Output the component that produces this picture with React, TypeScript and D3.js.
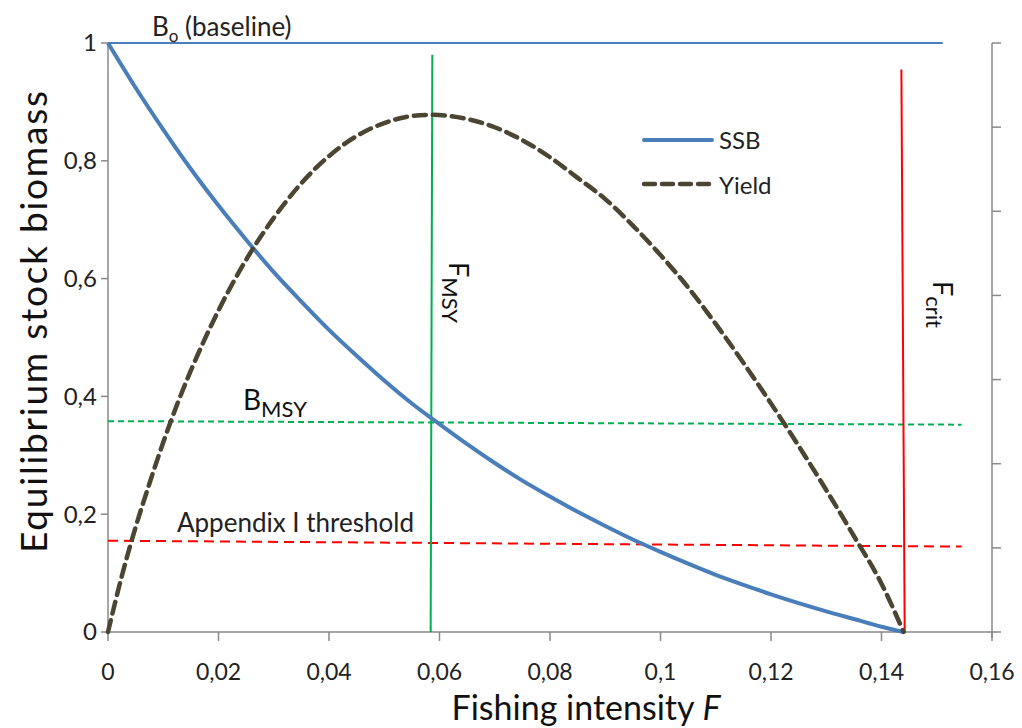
import React from "react";
import * as d3 from "d3";

// ---- data ----
const ssbF = [0, 0.005, 0.01, 0.015, 0.02, 0.025, 0.03, 0.035, 0.04, 0.045, 0.05, 0.055, 0.06, 0.065, 0.07, 0.075, 0.08, 0.085, 0.09, 0.095, 0.1, 0.105, 0.11, 0.115, 0.12, 0.125, 0.13, 0.135, 0.14, 0.144];
const ssbValues = [1, 0.924, 0.853, 0.786, 0.724, 0.666, 0.611, 0.561, 0.513, 0.469, 0.427, 0.388, 0.353, 0.319, 0.287, 0.257, 0.23, 0.204, 0.18, 0.157, 0.136, 0.116, 0.097, 0.08, 0.064, 0.049, 0.035, 0.022, 0.009, 0];

const yieldF = [0, 0.0025, 0.005, 0.0075, 0.01, 0.0125, 0.015, 0.0175, 0.02, 0.025, 0.03, 0.035, 0.04, 0.045, 0.05, 0.055, 0.0585, 0.062, 0.065, 0.07, 0.075, 0.08, 0.085, 0.09, 0.095, 0.1, 0.105, 0.11, 0.115, 0.12, 0.125, 0.13, 0.135, 0.14, 0.144];
const yieldValues = [0, 0.095, 0.178, 0.252, 0.322, 0.386, 0.444, 0.497, 0.546, 0.632, 0.703, 0.762, 0.808, 0.842, 0.864, 0.876, 0.878, 0.876, 0.871, 0.857, 0.835, 0.806, 0.771, 0.735, 0.69, 0.64, 0.585, 0.523, 0.457, 0.388, 0.316, 0.241, 0.163, 0.082, 0];

const xTicks = [0, 0.02, 0.04, 0.06, 0.08, 0.1, 0.12, 0.14, 0.16];
const xTickLabels = ["0", "0,02", "0,04", "0,06", "0,08", "0,1", "0,12", "0,14", "0,16"];
const yTicks = [0, 0.2, 0.4, 0.6, 0.8, 1];
const yTickLabels = ["0", "0,2", "0,4", "0,6", "0,8", "1"];
const rightTicks = [0, 1 / 7, 2 / 7, 3 / 7, 4 / 7, 5 / 7, 6 / 7, 1];

// reference lines: [F, value] endpoints
const baselineLine = [[0, 1], [0.1511, 1]];
const bmsyLine = [[0, 0.358], [0.1545, 0.352]];
const appendixLine = [[0, 0.155], [0.1545, 0.145]];
const fmsyLine = [[0.0587, 0.98], [0.0584, 0]];
const fcritLine = [[0.1436, 0.955], [0.1442, 0]];

const FONT = "Lato, 'Open Sans', sans-serif";
const AXIS = "#898989";

export default function App() {
  const x = d3.scaleLinear().domain([0, 0.16]).range([108, 992]);
  const y = d3.scaleLinear().domain([0, 1]).range([632, 43]);
  const line = d3.line<number[]>().x((d) => x(d[0])).y((d) => y(d[1]));
  const curve = d3
    .line<number[]>()
    .x((d) => x(d[0]))
    .y((d) => y(d[1]))
    .curve(d3.curveMonotoneX);

  const ssb = ssbF.map((f, i) => [f, ssbValues[i]]);
  const yld = yieldF.map((f, i) => [f, yieldValues[i]]);

  return (
    <svg
      width={1022}
      height={728}
      style={{ position: "absolute", left: 0, top: 0, background: "#fff" }}
      fontFamily={FONT}
    >
      {/* axes */}
      <line x1={x(0)} x2={x(0)} y1={y(1)} y2={y(0)} stroke={AXIS} strokeWidth={1.5} />
      <line x1={x(0)} x2={x(0.16)} y1={y(0)} y2={y(0)} stroke={AXIS} strokeWidth={1.5} />
      <line x1={x(0.16)} x2={x(0.16)} y1={y(1)} y2={y(0) + 6} stroke={AXIS} strokeWidth={1.5} />
      {yTicks.map((t, i) => (
        <g key={"yt" + i}>
          <line x1={x(0) - 7} x2={x(0)} y1={y(t)} y2={y(t)} stroke={AXIS} strokeWidth={1.5} />
          <text x={x(0) - 11} y={y(t)} dy="0.35em" textAnchor="end" fontSize={24} fill="#222">
            {yTickLabels[i]}
          </text>
        </g>
      ))}
      {rightTicks.map((t, i) => (
        <line key={"rt" + i} x1={x(0.16)} x2={x(0.16) + 9} y1={y(t)} y2={y(t)} stroke={AXIS} strokeWidth={1.5} />
      ))}
      {xTicks.map((t, i) => (
        <g key={"xt" + i}>
          <line x1={x(t)} x2={x(t)} y1={y(0)} y2={y(0) + 9} stroke={AXIS} strokeWidth={1.5} />
          <text x={x(t)} y={y(0) + 48} textAnchor="middle" fontSize={23} fill="#222">
            {xTickLabels[i]}
          </text>
        </g>
      ))}

      {/* axis titles */}
      <text x={586} y={720} textAnchor="middle" fontSize={34} fill="#111">
        Fishing intensity <tspan fontStyle="italic">F</tspan>
      </text>
      <text
        transform="translate(47,322) rotate(-90)"
        textAnchor="middle"
        fontSize={37}
        textLength={462}
        lengthAdjust="spacing"
        fill="#111"
      >
        Equilibrium stock biomass
      </text>

      {/* reference lines */}
      <path d={line(baselineLine) || ""} fill="none" stroke="#4a7ebb" strokeWidth={2} />
      <path d={line(bmsyLine) || ""} fill="none" stroke="#00b050" strokeWidth={2} strokeDasharray="6,4" />
      <path d={line(appendixLine) || ""} fill="none" stroke="#ff0000" strokeWidth={2} strokeDasharray="10,6" />
      <path d={line(fmsyLine) || ""} fill="none" stroke="#00b050" strokeWidth={2} />
      <path d={line(fcritLine) || ""} fill="none" stroke="#ff0000" strokeWidth={2} />

      {/* curves */}
      <path d={curve(ssb) || ""} fill="none" stroke="#4a7ebb" strokeWidth={4} />
      <path
        d={curve(yld) || ""}
        fill="none"
        stroke="#4b4631"
        strokeWidth={4.5}
        strokeDasharray="12,7"
        strokeLinecap="round"
      />

      {/* labels */}
      <text x={152} y={36} fontSize={26} fill="#222">
        B<tspan fontSize={17} dy={6}>o</tspan>
        <tspan dy={-6}> (baseline)</tspan>
      </text>
      <text x={243} y={410} fontSize={28} fill="#111">
        B<tspan fontSize={22} dy={7}>MSY</tspan>
      </text>
      <text x={177} y={532} fontSize={26} fill="#222">
        Appendix I threshold
      </text>
      <text transform="translate(449,262) rotate(90)" fontSize={27} fill="#111">
        F<tspan fontSize={22} dy={7}>MSY</tspan>
      </text>
      <text transform="translate(933,281) rotate(90)" fontSize={27} fill="#111">
        F<tspan fontSize={22} dy={7}>crit</tspan>
      </text>

      {/* legend */}
      <line x1={644} x2={712} y1={140} y2={140} stroke="#4a7ebb" strokeWidth={4} strokeLinecap="round" />
      <text x={719} y={149} fontSize={24} fill="#222">SSB</text>
      <line
        x1={644}
        x2={712}
        y1={184}
        y2={184}
        stroke="#4b4631"
        strokeWidth={4.5}
        strokeDasharray="11,7"
        strokeLinecap="round"
      />
      <text x={719} y={194} fontSize={24} fill="#222">Yield</text>
    </svg>
  );
}
